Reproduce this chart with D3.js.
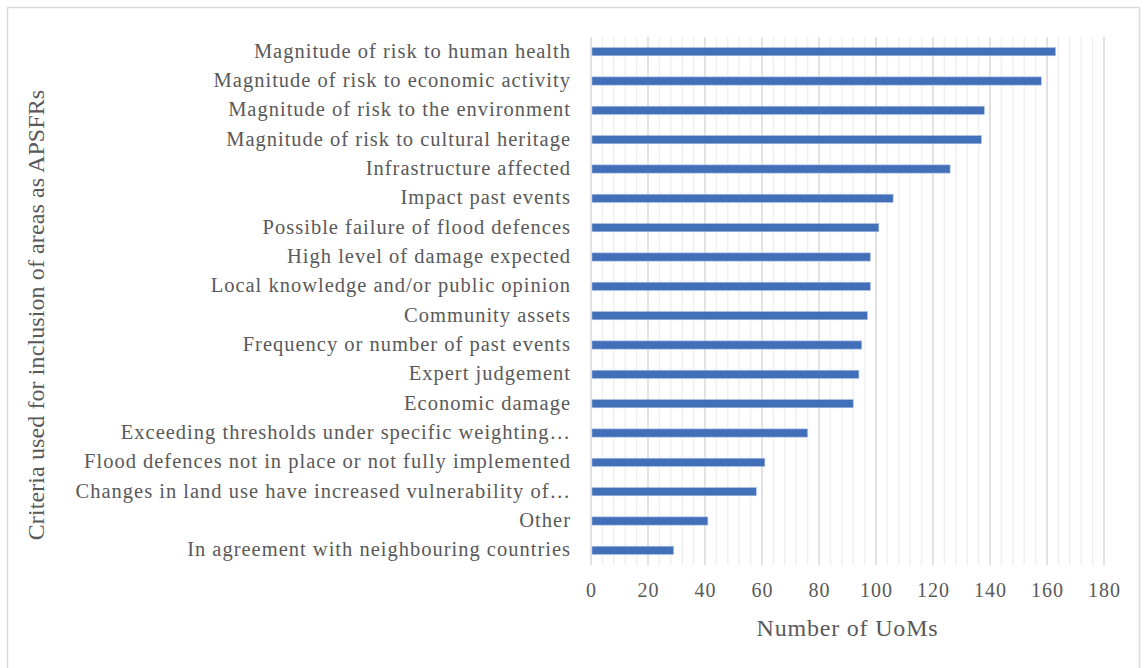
<!DOCTYPE html>
<html><head><meta charset="utf-8">
<script src="https://cdn.jsdelivr.net/npm/d3@7"></script>
<style>body{margin:0;background:#fff}svg{display:block}</style>
</head><body>
<script>
const categories = [
  "Magnitude of risk to human health",
  "Magnitude of risk to economic activity",
  "Magnitude of risk to the environment",
  "Magnitude of risk to cultural heritage",
  "Infrastructure affected",
  "Impact past events",
  "Possible failure of flood defences",
  "High level of damage expected",
  "Local knowledge and/or public opinion",
  "Community assets",
  "Frequency or number of past events",
  "Expert judgement",
  "Economic damage",
  "Exceeding thresholds under specific weighting…",
  "Flood defences not in place or not fully implemented",
  "Changes in land use have increased vulnerability of…",
  "Other",
  "In agreement with neighbouring countries"
];
const values = [163, 158, 138, 137, 126, 106, 101, 98, 98, 97, 95, 94, 92, 76, 61, 58, 41, 29];
const majorTicks = [0, 20, 40, 60, 80, 100, 120, 140, 160, 180];
const xTitle = "Number of UoMs";
const yTitle = "Criteria used for inclusion of areas as APSFRs";

const W = 1145, H = 668;
const svg = d3.select("body").append("svg").attr("width", W).attr("height", H);
svg.append("rect").attr("x", 7.5).attr("y", 7.5).attr("width", 1132).attr("height", 670)
  .attr("fill", "#fff").attr("stroke", "#d9d9d9").attr("stroke-width", 1.5);

const pL = 591, pR = 1104, pT = 37, pB = 565;
const x = d3.scaleLinear().domain([0, 180]).range([pL, pR]);
const y = d3.scaleBand().domain(categories).range([pT, pB]).paddingInner(0.72).paddingOuter(0.36);

const minor = d3.range(0, 181, 4).filter(v => v % 20 !== 0);
svg.append("g").selectAll("line").data(minor).join("line")
  .attr("x1", d => x(d)).attr("x2", d => x(d)).attr("y1", pT).attr("y2", pB)
  .attr("stroke", "#f0f0f0").attr("stroke-width", 1.5);
svg.append("g").selectAll("line").data(majorTicks).join("line")
  .attr("x1", d => x(d)).attr("x2", d => x(d)).attr("y1", pT).attr("y2", pB)
  .attr("stroke", "#d9d9d9").attr("stroke-width", 1.5);

svg.append("g").selectAll("rect").data(values).join("rect")
  .attr("x", x(0) + 1).attr("y", (d, i) => y(categories[i]))
  .attr("width", d => x(d) - x(0) - 1).attr("height", y.bandwidth())
  .attr("fill", "#4170b8").attr("stroke", "#a9c0e6").attr("stroke-width", 0.6);

const font = "'Liberation Serif', 'Times New Roman', serif";
const yAxis = svg.append("g").attr("transform", `translate(${pL - 20},0)`)
  .call(d3.axisLeft(y).tickSize(0).tickPadding(0));
yAxis.select(".domain").remove();
yAxis.selectAll("text").attr("font-family", font).attr("font-size", 20.5)
  .attr("letter-spacing", 1.0).attr("fill", "#595959").attr("dy", "0.3em");

const xAxis = svg.append("g").attr("transform", `translate(0,${pB})`)
  .call(d3.axisBottom(x).tickValues(majorTicks).tickSize(0).tickPadding(18));
xAxis.select(".domain").remove();
xAxis.selectAll("text").attr("font-family", font).attr("font-size", 20)
  .attr("letter-spacing", 1).attr("fill", "#595959");

svg.append("text").attr("x", (pL + pR) / 2).attr("y", 636).attr("text-anchor", "middle")
  .attr("font-family", font).attr("font-size", 24).attr("letter-spacing", 0.8)
  .attr("fill", "#595959").text(xTitle);
svg.append("text").attr("transform", `translate(44,315) rotate(-90)`)
  .attr("text-anchor", "middle").attr("font-family", font).attr("font-size", 24)
  .attr("letter-spacing", 0.1).attr("fill", "#595959").text(yTitle);
</script>
</body></html>
